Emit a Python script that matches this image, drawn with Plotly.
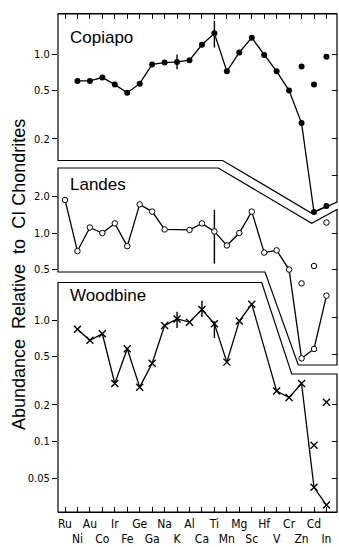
import plotly.graph_objects as go

# ---------------- data ----------------
elements = ["Ru", "Ni", "Au", "Co", "Ir", "Fe", "Ge", "Ga", "Na", "K", "Al",
            "Ca", "Ti", "Mn", "Mg", "Sc", "Hf", "V", "Cr", "Zn", "Cd", "In"]

copiapo = [None, 0.60, 0.60, 0.64, 0.56, 0.48, 0.57, 0.82, 0.85, 0.86, 0.89,
           1.19, 1.48, 0.72, 1.03, 1.36, 0.98, 0.72, 0.50, 0.27, 0.050, 0.056]
copiapo_err_plus = [0, 0, 0, 0, 0, 0, 0, 0, 0, 0.13, 0,
                    0, 0.40, 0, 0, 0, 0, 0, 0, 0, 0, 0]
copiapo_err_minus = [0, 0, 0, 0, 0, 0, 0, 0, 0, 0.11, 0,
                     0, 0.35, 0, 0, 0, 0, 0, 0, 0, 0, 0]
copiapo_extra_el = ["Zn", "Cd", "In"]
copiapo_extra = [0.79, 0.56, 0.95]

landes = [1.87, 0.71, 1.11, 1.00, 1.20, 0.78, 1.72, 1.50, 1.07, None, 1.06,
          1.20, 1.03, 0.79, 1.00, 1.50, 0.69, 0.72, 0.50, 0.093, 0.111, 0.305]
landes_err_plus = [0, 0, 0, 0, 0, 0, 0, 0, 0, 0, 0,
                   0, 0.52, 0, 0, 0, 0, 0, 0, 0, 0, 0]
landes_err_minus = [0, 0, 0, 0, 0, 0, 0, 0, 0, 0, 0,
                    0, 0.47, 0, 0, 0, 0, 0, 0, 0, 0, 0]
landes_extra_el = ["Zn", "Cd", "In"]
landes_extra = [0.385, 0.535, 1.22]

woodbine = [None, 0.84, 0.68, 0.77, 0.30, 0.58, 0.28, 0.44, 0.90, 1.02, 0.96,
            1.22, 0.93, 0.45, 0.98, 1.35, None, 0.26, 0.23, 0.30, 0.042, 0.030]
woodbine_err_plus = [0, 0, 0, 0, 0, 0, 0, 0, 0, 0.15, 0,
                     0.22, 0.05, 0, 0, 0, 0, 0, 0, 0, 0, 0]
woodbine_err_minus = [0, 0, 0, 0, 0, 0, 0, 0, 0, 0.16, 0,
                      0.16, 0.22, 0, 0, 0, 0, 0, 0, 0, 0, 0]
woodbine_extra_el = ["Cd", "In"]
woodbine_extra = [0.093, 0.21]

copiapo_ticks = [0.2, 0.5, 1.0]
landes_ticks = [0.5, 1.0, 2.0]
woodbine_ticks = [0.05, 0.1, 0.2, 0.5, 1.0]
copiapo_rticks = [0.1, 0.2, 0.5, 1.0]
landes_rticks = [0.1, 0.2, 0.5, 1.0]
woodbine_rticks = [0.05, 0.1, 0.2]

# ---------------- layout geometry (pixels) ----------------
WIDTH, HEIGHT = 339, 547
L, R, T, B = 58, 337, 14, 512
PX_PER_DEC = 121.5
SPAN = (B - T) / PX_PER_DEC
X0_PX, DX_PX = 65.0, 12.45


def log_range(one_px):
    top = (one_px - T) / PX_PER_DEC
    return [top - SPAN, top]


def px(xp, yp):
    return (xp - L) / (R - L), (B - yp) / (B - T)


def path(points):
    s = ""
    for i, (a, b) in enumerate(points):
        xx, yy = px(a, b)
        s += ("M" if i == 0 else "L") + f"{xx:.5f},{yy:.5f} "
    return s + "Z"


FONT = "Liberation Sans Narrow, DejaVu Sans Condensed, Arial Narrow, sans-serif"
LW = 1.3

fig = go.Figure()


def series(name, vals, yax, marker, ep, em):
    fig.add_trace(go.Scatter(
        x=elements, y=vals, yaxis=yax, mode="lines+markers", name=name,
        connectgaps=True, line=dict(color="black", width=LW),
        marker=marker, showlegend=False, hoverinfo="skip", cliponaxis=False,
        error_y=dict(type="data", array=ep, arrayminus=em, symmetric=False,
                     color="black", thickness=1.4, width=0)))


def extra(name, xs, vals, yax, marker):
    fig.add_trace(go.Scatter(
        x=xs, y=vals, yaxis=yax, mode="markers", name=name, marker=marker,
        showlegend=False, hoverinfo="skip"))


dot = dict(symbol="circle", size=6, color="black")
ring = dict(symbol="circle", size=5.5, color="white", line=dict(color="black", width=1))
cross = dict(symbol="x-thin", size=7, line=dict(color="black", width=1.4), color="black")

series("Copiapo", copiapo, "y", dot, copiapo_err_plus, copiapo_err_minus)
series("Landes", landes, "y2", ring, landes_err_plus, landes_err_minus)
series("Woodbine", woodbine, "y3", cross, woodbine_err_plus, woodbine_err_minus)
extra("Copiapo extra", copiapo_extra_el, copiapo_extra, "y4", dot)
extra("Landes extra", landes_extra_el, landes_extra, "y5", ring)
extra("Woodbine extra", woodbine_extra_el, woodbine_extra, "y6", cross)

ticktext = [e if i % 2 == 0 else "<br>" + e for i, e in enumerate(elements)]


def lefty(rng, tv, overlay=None):
    d = dict(type="log", range=rng, domain=[0, 1], anchor="x", side="left",
             showgrid=False, zeroline=False, showline=False,
             ticks="outside", ticklen=5, tickwidth=1.2, tickcolor="black",
             tickvals=tv, ticktext=[("%g" % v if v < 0.1 else "%.1f" % v) for v in tv],
             tickfont=dict(family=FONT, size=11, color="black"))
    if overlay:
        d["overlaying"] = overlay
    return d


def righty(rng, tv):
    return dict(type="log", range=rng, domain=[0, 1], anchor="x", side="right",
                overlaying="y", showgrid=False, zeroline=False, showline=False,
                ticks="inside", ticklen=5, tickwidth=1.2, tickcolor="black",
                tickvals=tv, showticklabels=False)


rc, rl, rw = log_range(54), log_range(233), log_range(320)

shapes = []
for pts in [
    [(L, T), (R, T), (R, 202), (311.7, 213.3), (222.7, 160.5), (L, 160.5)],
    [(L, 168), (218.3, 168), (311.7, 223.3), (R, 209.5), (R, 365), (298.3, 365), (265, 272), (L, 272)],
    [(L, 282.5), (261.7, 282.5), (291.7, 374), (R, 374), (R, B), (L, B)],
]:
    shapes.append(dict(type="path", path=path(pts), xref="paper", yref="paper",
                       line=dict(color="black", width=1.2), fillcolor="rgba(0,0,0,0)",
                       layer="below"))

annotations = []
for label, (xp, yp) in [("Copiapo", (68, 37)), ("Landes", (68, 184)), ("Woodbine", (68, 296))]:
    xx, yy = px(xp, yp)
    annotations.append(dict(text=label, x=xx, y=yy, xref="paper", yref="paper",
                            xanchor="left", yanchor="middle", showarrow=False,
                            font=dict(family="Liberation Sans, Arial, sans-serif", size=17, color="black")))
xx, yy = px(19, 275)
annotations.append(dict(text="Abundance  Relative  to  CI Chondrites", x=xx, y=yy,
                        xref="paper", yref="paper", textangle=-90, showarrow=False,
                        xanchor="center", yanchor="middle",
                        font=dict(family="Liberation Sans, Arial, sans-serif", size=18, color="black")))

fig.update_layout(
    width=WIDTH, height=HEIGHT,
    margin=dict(l=L, r=WIDTH - R, t=T, b=HEIGHT - B, pad=0),
    paper_bgcolor="white", plot_bgcolor="white",
    xaxis=dict(type="category", categoryarray=elements, categoryorder="array",
               range=[(L - X0_PX) / DX_PX, (R - X0_PX) / DX_PX],
               tickvals=elements, ticktext=ticktext, tickangle=0,
               ticks="inside", ticklen=5, tickwidth=1.2, tickcolor="black",
               showline=True, linecolor="black", linewidth=1.2, mirror="ticks",
               showgrid=False, zeroline=False,
               tickfont=dict(family=FONT, size=12, color="black")),
    yaxis=lefty(rc, copiapo_ticks),
    yaxis2=lefty(rl, landes_ticks, "y"),
    yaxis3=lefty(rw, woodbine_ticks, "y"),
    yaxis4=righty(rc, copiapo_rticks),
    yaxis5=righty(rl, landes_rticks),
    yaxis6=righty(rw, woodbine_rticks),
    shapes=shapes, annotations=annotations, showlegend=False,
)

fig.write_html("out.html", config={"displayModeBar": False},
               post_script="document.body.style.margin='0';document.body.style.padding='0';")
